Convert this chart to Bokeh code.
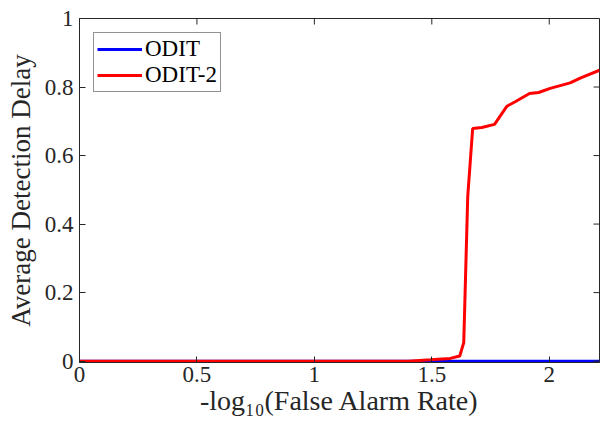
from bokeh.plotting import figure
from bokeh.models import Range1d, FixedTicker, Legend, LegendItem
from bokeh.embed import file_html
from bokeh.resources import INLINE

# data
odit_x = [0.0, 0.5, 1.0, 1.5, 2.0, 2.214]
odit_y = [0.0, 0.0, 0.0, 0.0, 0.0, 0.0]
odit2_x = [0.0, 1.40, 1.494, 1.579, 1.619, 1.636, 1.653, 1.674, 1.713, 1.767,
           1.820, 1.855, 1.916, 1.955, 2.004, 2.089, 2.132, 2.214]
odit2_y = [0.0, 0.0, 0.004, 0.008, 0.015, 0.054, 0.481, 0.679, 0.682, 0.691,
           0.744, 0.757, 0.781, 0.784, 0.796, 0.812, 0.826, 0.849]
x_ticks = [0, 0.5, 1, 1.5, 2]
y_ticks = [0, 0.2, 0.4, 0.6, 0.8, 1]
x_max = 2.214
y_min = -0.004
y_max = 1.0
x_label = "-log\u2081\u2080(False Alarm Rate)"
y_label = "Average Detection Delay"
series_names = ["ODIT", "ODIT-2"]

FONT = "Liberation Serif"
AX = "#262626"

p = figure(width=600, height=426, output_backend="svg", toolbar_location=None,
           x_range=Range1d(0, x_max), y_range=Range1d(y_min, y_max),
           min_border_left=79, min_border_right=1, min_border_top=18,
           min_border_bottom=64)
p.xgrid.visible = False
p.ygrid.visible = False
p.outline_line_color = AX
p.outline_line_width = 1
p.background_fill_color = "white"
p.border_fill_color = "white"

r1 = p.line(odit_x, odit_y, line_color="#0000ff", line_width=3)
r2 = p.line(odit2_x, odit2_y, line_color="#ff0000", line_width=3)

# inward ticks on the top and right edges (half of each dash is clipped)
p.scatter(x_ticks, [y_max] * len(x_ticks), marker="dash", size=12, angle=1.5708,
          line_color=AX, line_width=1)
p.scatter([x_max] * len(y_ticks), y_ticks, marker="dash", size=12,
          line_color=AX, line_width=1)

for ax in (p.xaxis[0], p.yaxis[0]):
    ax.axis_line_color = AX
    ax.major_tick_line_color = AX
    ax.major_tick_in = 6
    ax.major_tick_out = 0
    ax.minor_tick_line_color = None
    ax.major_label_text_font = FONT
    ax.major_label_text_font_size = "23px"
    ax.major_label_text_color = AX
    ax.axis_label_text_font = FONT
    ax.axis_label_text_font_style = "normal"
    ax.axis_label_text_color = AX

p.xaxis[0].axis_label_text_font_size = "28px"
p.yaxis[0].axis_label_text_font_size = "27px"
p.xaxis[0].ticker = FixedTicker(ticks=x_ticks)
p.yaxis[0].ticker = FixedTicker(ticks=y_ticks)
p.xaxis[0].axis_label = x_label
p.yaxis[0].axis_label = y_label
p.xaxis[0].major_label_standoff = 4
p.yaxis[0].major_label_standoff = 6
p.xaxis[0].axis_label_standoff = 0
p.yaxis[0].axis_label_standoff = 6

legend = Legend(items=[LegendItem(label=series_names[0], renderers=[r1]),
                       LegendItem(label=series_names[1], renderers=[r2])],
                location="top_left")
legend.margin = 14
legend.padding = 3
legend.spacing = 0
legend.glyph_width = 45
legend.glyph_height = 26
legend.label_standoff = 3
legend.label_height = 26
legend.label_text_font = FONT
legend.label_text_font_size = "23px"
legend.label_text_color = "black"
legend.border_line_color = AX
legend.border_line_width = 1
legend.background_fill_color = "white"
p.add_layout(legend, "center")

open("out.html", "w").write(file_html(p, INLINE))
